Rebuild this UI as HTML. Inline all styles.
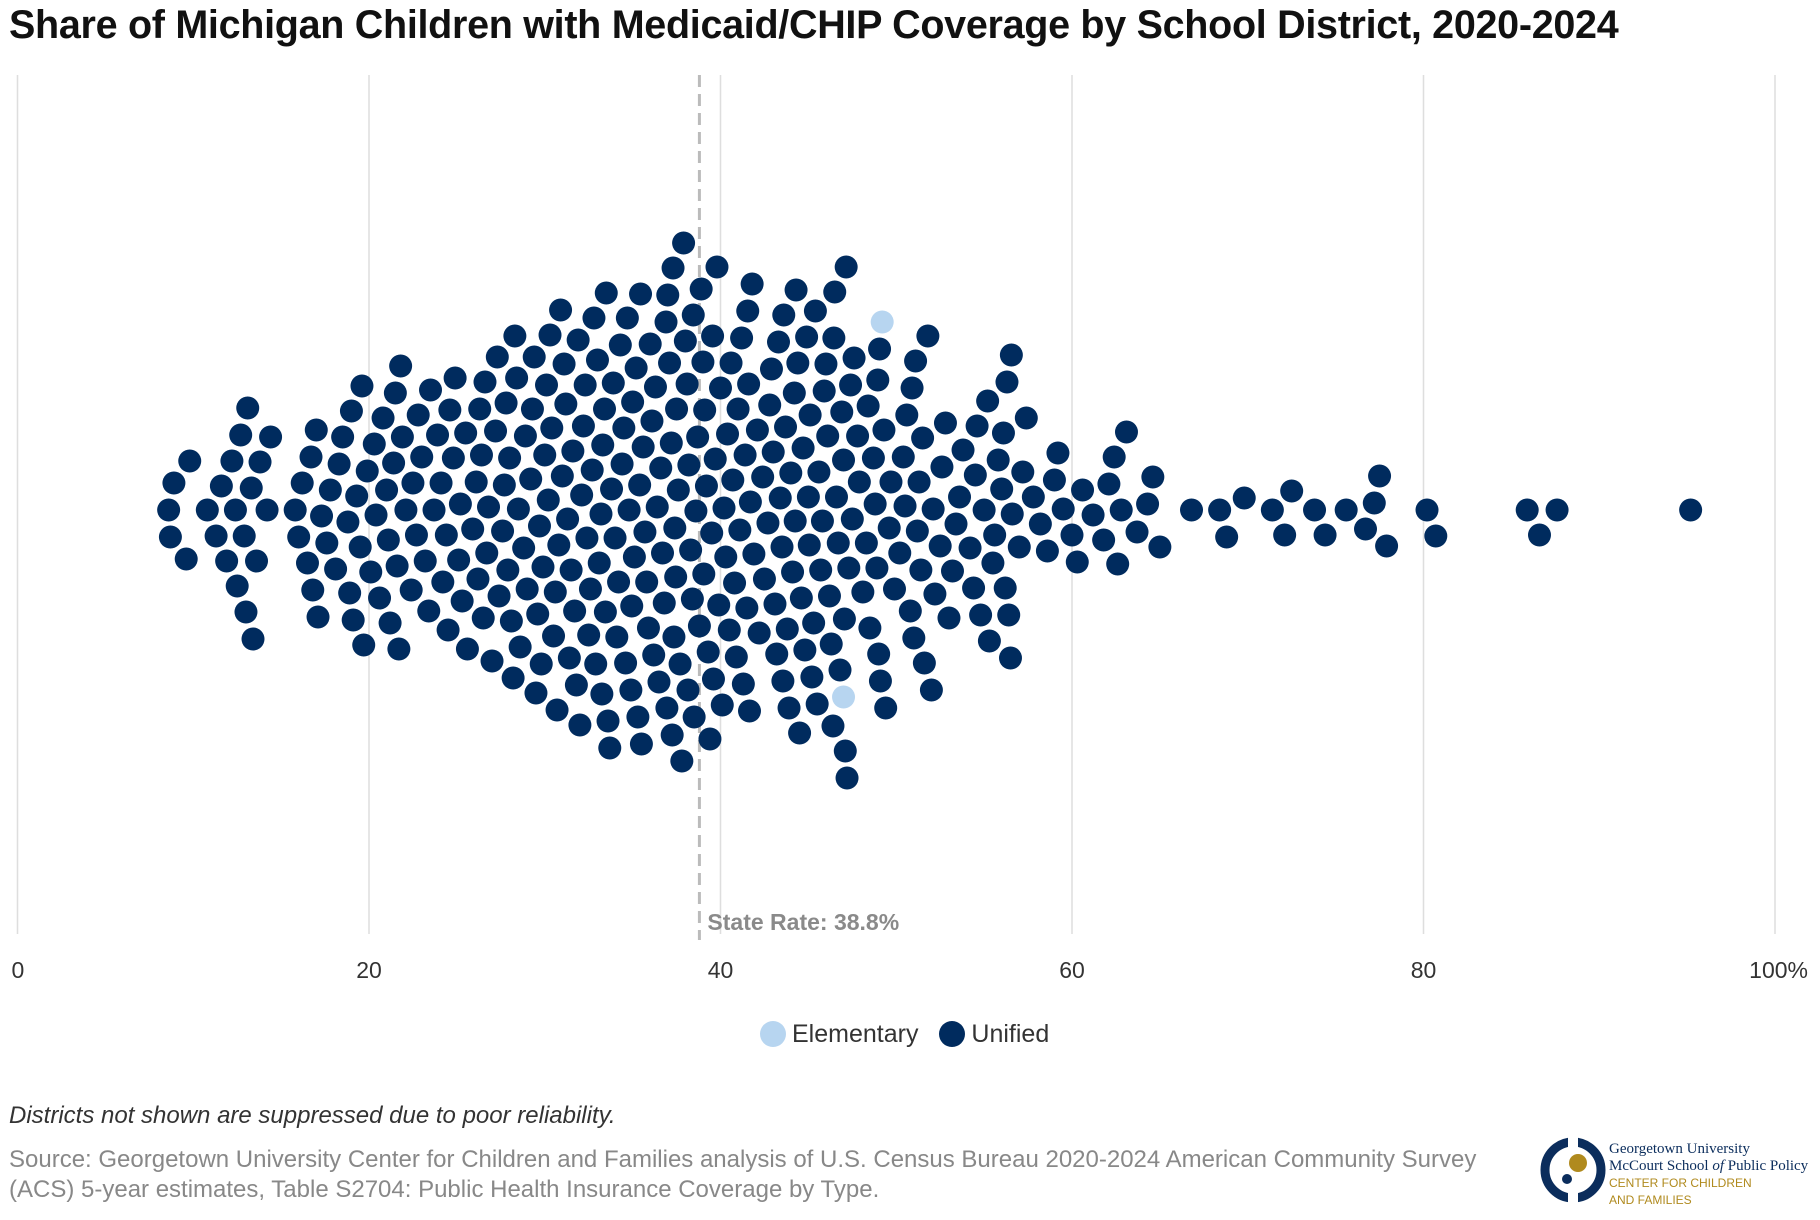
<!DOCTYPE html>
<html><head><meta charset="utf-8"><style>
body{margin:0;background:#fff;font-family:"Liberation Sans",sans-serif;}
#wrap{position:relative;width:1820px;height:1220px;overflow:hidden;}
.t{position:absolute;white-space:nowrap;}
</style></head><body>
<div id="wrap">
<div class="t" style="left:9px;top:3px;font-size:39.5px;font-weight:bold;color:#111;letter-spacing:-0.3px;">Share of Michigan Children with Medicaid/CHIP Coverage by School District, 2020-2024</div>
<svg id="plot" width="1820" height="1000" style="position:absolute;left:0;top:0;"></svg>
<div class="t" style="left:760px;top:1020px;font-size:25px;color:#333;">
<span><span style="display:inline-block;width:26px;height:26px;border-radius:50%;background:#b7d5f0;vertical-align:-5px;margin-right:6px;"></span>Elementary</span>
<span style="margin-left:14px;"><span style="display:inline-block;width:26px;height:26px;border-radius:50%;background:#002b5e;vertical-align:-5px;margin-right:6px;"></span>Unified</span>
</div>
<div class="t" style="left:9px;top:1102px;font-size:24px;font-style:italic;color:#333;">Districts not shown are suppressed due to poor reliability.</div>
<div class="t" style="left:9px;top:1145px;font-size:24px;color:#888;line-height:30px;">Source: Georgetown University Center for Children and Families analysis of U.S. Census Bureau 2020-2024 American Community Survey<br>(ACS) 5-year estimates, Table S2704: Public Health Insurance Coverage by Type.</div>
<svg width="80" height="80" style="position:absolute;left:1540px;top:1137px;">
<circle cx="33" cy="33" r="28" fill="none" stroke="#0b2d5c" stroke-width="9"/>
<rect x="28" y="0" width="10" height="10" fill="#fff"/><rect x="28" y="56" width="10" height="10" fill="#fff"/>
<circle cx="38" cy="26" r="9" fill="#b08a1e"/><circle cx="27" cy="42" r="5" fill="#0b2d5c"/>
</svg>
<div class="t" style="left:1609px;top:1141px;font-family:'Liberation Serif',serif;font-size:15px;color:#0b2d5c;line-height:17px;">Georgetown University<br>McCourt School <i>of</i> Public Policy<br><span style="font-family:'Liberation Sans';color:#b08a1e;font-size:12px;line-height:14px;">CENTER FOR CHILDREN<br>AND FAMILIES</span></div>
</div>
<script>
const ticks=[0,20,40,60,80,100];
const tickLabels=["0","20","40","60","80","100%"];
const stateRate=38.8;
const elementaryValues=[47.0,49.2];
const unifiedValues=[8.6,8.7,8.9,9.6,9.8,10.8,11.3,11.6,11.9,
12.2,12.4,12.5,12.7,12.9,13.0,13.1,13.3,13.4,13.6,13.8,14.2,14.4,15.8,
16.0,16.2,16.5,16.7,16.8,17.0,17.1,17.3,17.6,17.8,
18.1,18.3,18.5,18.8,19.0,19.1,19.3,19.5,19.6,19.7,19.9,18.9,
20.1,20.4,20.6,20.8,21.0,21.1,21.2,21.4,21.5,21.6,21.7,21.8,21.9,20.3,
22.1,22.4,22.5,22.7,23.0,23.2,23.4,23.7,23.9,22.8,23.5,
24.2,24.4,24.5,24.6,24.9,25.1,25.3,25.5,25.6,25.9,24.1,24.8,25.2,
26.1,26.2,26.3,26.4,26.6,26.7,26.8,27.0,27.2,27.3,27.4,27.6,27.7,27.8,27.9,26.5,
28.0,28.1,28.2,28.4,28.5,28.6,28.8,28.9,29.0,29.2,29.3,29.4,29.5,29.6,29.7,29.8,29.9,28.3,
30.1,30.2,30.3,30.5,30.6,30.7,30.9,31.0,31.1,31.2,31.4,31.5,31.6,31.7,31.9,30.4,30.8,31.3,31.8,30.0,
32.0,32.1,32.2,32.4,32.5,32.6,32.8,32.9,33.0,33.1,33.2,33.3,33.4,33.5,33.6,33.7,33.8,33.9,32.3,32.7,33.25,33.45,
34.0,34.1,34.2,34.4,34.5,34.6,34.7,34.9,35.0,35.1,35.2,35.4,35.5,35.6,35.7,35.9,34.3,34.8,35.3,35.8,34.95,35.45,
36.0,36.1,36.2,36.4,36.5,36.6,36.7,36.9,37.0,37.1,37.2,37.3,37.4,37.5,37.6,37.7,37.9,36.3,36.8,37.25,37.35,37.8,36.95,37.45,
38.0,38.1,38.2,38.4,38.5,38.6,38.7,38.9,39.0,39.1,39.2,39.4,39.5,39.6,39.7,39.8,38.3,38.8,39.3,39.9,38.45,39.05,39.55,38.15,
40.0,40.1,40.2,40.4,40.6,40.7,40.8,41.0,41.2,41.3,41.4,41.5,41.6,41.7,41.8,41.9,40.3,40.9,41.1,40.5,41.65,41.55,
42.2,42.4,42.5,42.8,43.0,43.2,43.3,43.5,43.6,43.7,43.9,42.1,42.7,43.1,43.4,43.8,42.9,43.55,
44.0,44.1,44.2,44.4,44.5,44.6,44.8,45.0,45.1,45.2,45.4,45.5,45.6,45.8,45.9,44.3,44.7,45.3,45.7,44.9,44.25,45.05,
46.0,46.1,46.2,46.4,46.5,46.6,46.8,47.0,47.1,47.2,47.4,47.5,47.6,47.8,47.9,46.3,46.7,46.9,47.3,46.45,47.05,47.15,
48.1,48.3,48.5,48.7,48.9,49.0,49.1,49.4,49.6,49.7,49.9,48.4,48.8,49.3,48.95,49.05,
50.2,50.4,50.5,50.8,50.9,51.0,51.2,51.4,51.5,51.6,51.8,52.0,52.1,52.2,50.6,51.1,51.3,
52.6,52.8,53.0,53.4,53.6,53.8,52.5,53.2,
54.2,54.4,54.6,54.8,55.0,55.2,55.5,55.8,56.0,56.1,54.5,55.3,55.6,
56.2,56.4,56.5,56.6,57.0,57.2,57.4,57.8,58.2,56.3,56.55,
58.6,59.0,59.2,59.5,60.0,60.3,
60.6,61.2,61.8,62.1,62.4,62.6,62.8,63.1,63.7,64.3,64.6,
65.0,66.8,68.4,68.8,69.8,71.4,72.1,72.5,73.8,74.4,75.6,76.7,77.2,77.5,77.9,80.2,80.7,85.9,86.6,87.6,95.2];

const svg=document.getElementById('plot');
const NS='http://www.w3.org/2000/svg';
const X0=17.5,X1=1775,CY=510,R=11.5,D=27;
const xs=v=>X0+(X1-X0)*v/100;
function mk(tag,attrs){const e=document.createElementNS(NS,tag);for(const k in attrs)e.setAttribute(k,attrs[k]);svg.appendChild(e);return e;}
ticks.forEach((t,i)=>{
  const g=mk('line',{x1:xs(t),x2:xs(t),y1:75,y2:934,stroke:'#dedede','stroke-width':1.5});
  
  
  const tx=mk('text',{x:xs(t),y:978,'text-anchor':t===0?'start':(t===100?'end':'middle'),'font-size':23,fill:'#333','font-family':'Liberation Sans, sans-serif'});
  tx.textContent=tickLabels[i];
  
  
  if(t===0)tx.setAttribute('x',xs(t)-6);
  if(t===100)tx.setAttribute('x',xs(t)+33);
});
const sl=mk('line',{x1:xs(stateRate),x2:xs(stateRate),y1:75,y2:940,stroke:'#bbb','stroke-width':3,'stroke-dasharray':'12,7'});


const st=mk('text',{x:xs(stateRate)+8,y:930,'font-size':23,'font-weight':'bold',fill:'#8a8a8a','font-family':'Liberation Sans, sans-serif'});
st.textContent='State Rate: 38.8%';



const pts=unifiedValues.map(v=>({v,t:'u'})).concat(elementaryValues.map(v=>({v,t:'e'})));
pts.sort((a,b)=>a.v-b.v);
const placed=[];
pts.forEach(p=>{
  const x=xs(p.v);
  const near=placed.filter(q=>Math.abs(q.x-x)<D);
  let y=0;
  for(let s=0;s<2000;s++){
    const off=(s%2?1:-1)*Math.ceil(s/2);
    const ok=near.every(q=>(q.x-x)*(q.x-x)+(q.y-off)*(q.y-off)>=D*D);
    if(ok){y=off;break;}
  }
  placed.push({x,y,t:p.t});
});
placed.forEach(p=>{
  const c=mk('circle',{cx:p.x,cy:CY+p.y,r:R,fill:p.t==='e'?'#b7d5f0':'#002b5e'});
  
  
});
</script>
</body></html>
